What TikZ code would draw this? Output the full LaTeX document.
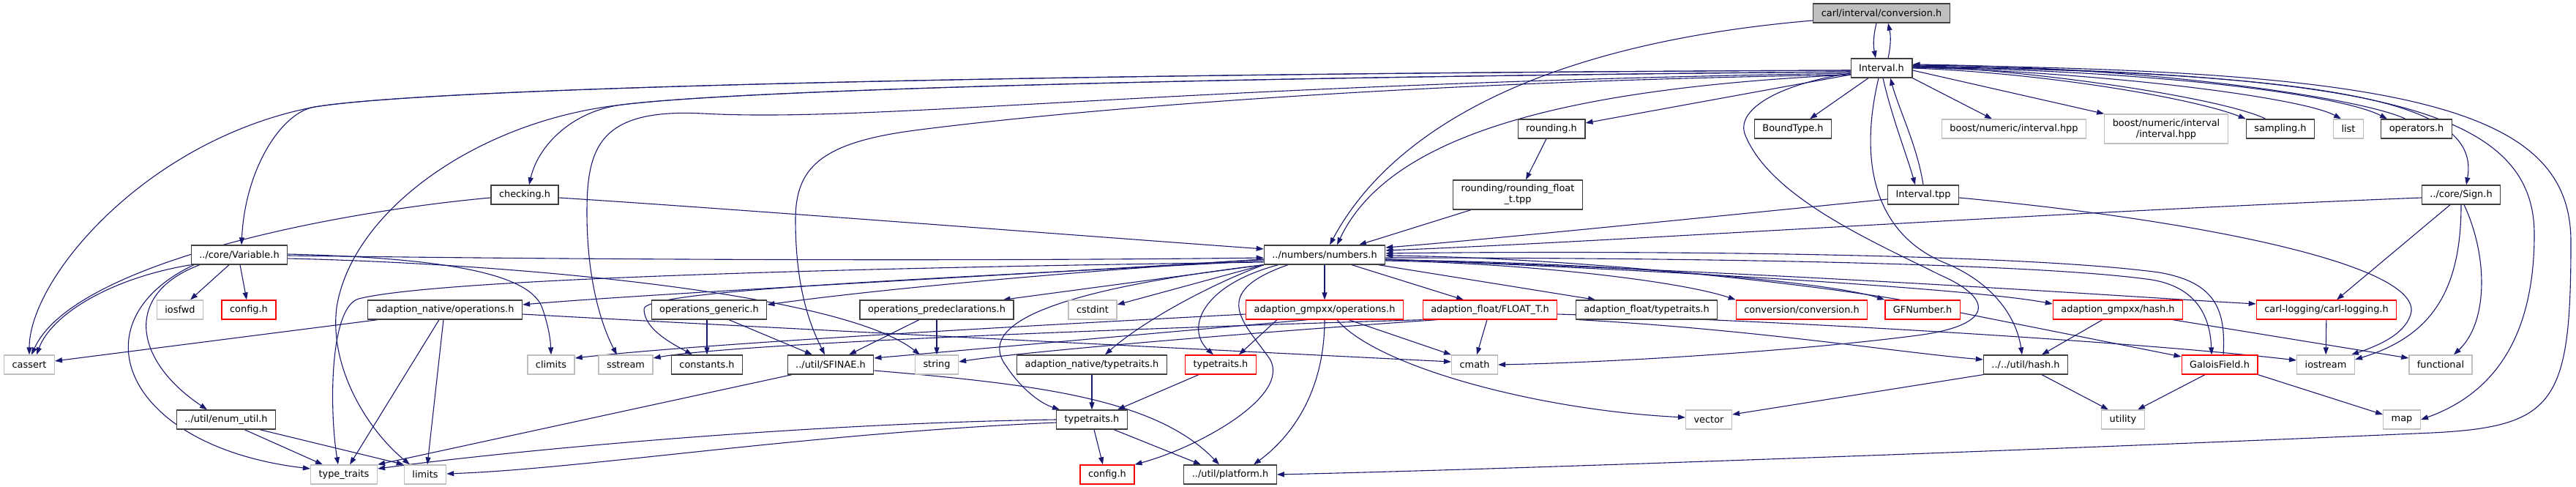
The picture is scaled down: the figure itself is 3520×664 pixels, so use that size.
\documentclass[tikz,border=0pt]{standalone}
\usepackage{fontspec}
\setmainfont{DejaVu Sans}
\usetikzlibrary{arrows.meta,backgrounds}
\definecolor{edgeblue}{HTML}{191970}
\definecolor{grey25}{HTML}{404040}
\definecolor{grey75}{HTML}{BFBFBF}
\definecolor{trunc}{HTML}{FF0000}

\begin{document}
\begin{tikzpicture}[x=1pt,y=-1pt,>={Triangle[length=10pt,width=7pt]}]
\tikzset{hdr/.style={draw=grey25,line width=1.3pt,fill=white,inner xsep=11pt,inner ysep=0pt,minimum height=26pt,font=\fontsize{12.9}{15}\selectfont}, syshdr/.style={hdr,draw=grey75}, trunchdr/.style={hdr,draw=trunc}, roothdr/.style={hdr,fill=grey75}, dep/.style={->,draw=edgeblue,line width=1.1pt}}
\useasboundingbox (0,0) rectangle (3520,664);
% project headers
\node[roothdr] (conv) at (2571,18) {carl/interval/conversion.h};
\node[hdr] (intv) at (2571,93) {Interval.h};
\node[hdr] (boundtype) at (2450,176) {BoundType.h};
\node[hdr] (rounding) at (2120,176) {rounding.h};
\node[syshdr] (bnint) at (2752,176) {boost/numeric/interval.hpp};
\node[syshdr,align=center,minimum height=40pt] (bninti) at (2960,176) {boost/numeric/interval\\/interval.hpp};
\node[hdr] (sampling) at (3116,176) {sampling.h};
\node[hdr] (operators) at (3302,176) {operators.h};
\node[hdr] (checking) at (717,266) {checking.h};
\node[hdr,align=center,minimum height=40pt] (rfloat) at (2074,266) {rounding/rounding\_float\\\_t.tpp};
\node[hdr] (itpp) at (2628,266) {Interval.tpp};
\node[hdr] (sign) at (3363,266) {../core/Sign.h};
\node[hdr] (variable) at (327,348) {../core/Variable.h};
\node[hdr] (numbers) at (1810,348) {../numbers/numbers.h};
\node[trunchdr] (configA) at (340,423) {config.h};
\node[hdr] (natops) at (608,423) {adaption\_native/operations.h};
\node[hdr] (opsgen) at (969,423) {operations\_generic.h};
\node[hdr] (opspre) at (1280,423) {operations\_predeclarations.h};
\node[trunchdr] (gmpops) at (1810,423) {adaption\_gmpxx/operations.h};
\node[trunchdr] (floatt) at (2036,423) {adaption\_float/FLOAT\_T.h};
\node[hdr] (floattt) at (2250,423) {adaption\_float/typetraits.h};
\node[trunchdr] (convconv) at (2462,423) {conversion/conversion.h};
\node[trunchdr] (gfnum) at (2627,423) {GFNumber.h};
\node[trunchdr] (gmphash) at (2894,423) {adaption\_gmpxx/hash.h};
\node[trunchdr] (logging) at (3179,423) {carl-logging/carl-logging.h};
\node[hdr] (constants) at (966,498) {constants.h};
\node[hdr] (sfinae) at (1135,498) {../util/SFINAE.h};
\node[hdr] (nattt) at (1492,498) {adaption\_native/typetraits.h};
\node[trunchdr] (tpred) at (1668,498) {typetraits.h};
\node[hdr] (hash) at (2768,498) {../../util/hash.h};
\node[trunchdr] (galois) at (3033,498) {GaloisField.h};
\node[hdr] (enumutil) at (309,573) {../util/enum\_util.h};
\node[hdr] (tpblack) at (1492,573) {typetraits.h};
\node[trunchdr] (configB) at (1513,648) {config.h};
\node[hdr] (platform) at (1681,648) {../util/platform.h};
% system headers
\foreach \n/\x/\y/\t in {lst/3209/176/list, iosfwd/246/423/iosfwd, cstdint/1493/423/cstdint, cassert/40/498/cassert, climits/753/498/climits, sstream/855/498/sstream, str/1280/498/string, cmath/2015/498/cmath, iostream/3178/498/iostream, functional/3335/498/functional, vector/2335/573/vector, utility/2901/573/utility, map/3282/573/map, typetraits/470/648/type\_traits, limits/581/648/limits}
  \node[syshdr] (\n) at (\x,\y) {\t};

\begin{scope}[on background layer]
% root and Interval.h
\draw[dep] ([xshift=-7]conv.south) to[bend right=12] ([xshift=-8]intv.north);
\draw[dep] ([xshift=9]intv.north) to[bend right=12] ([xshift=9]conv.south);
\draw[dep] ([yshift=-10]conv.west) .. controls (2100,60) and (1900,180) .. ([xshift=7]numbers.north);
\draw[dep] ([yshift=-9]intv.west) .. controls (2150,120) and (1900,180) .. ([xshift=17]numbers.north);
\draw[dep] ([yshift=-9]intv.west) -- ([yshift=8]rounding.east);
\draw[dep] ([xshift=-18]intv.south) -- ([xshift=23]boundtype.north);
\draw[dep] (intv.south east) -- ([xshift=-30]bnint.north);
\draw[dep] ([yshift=-3]intv.east) -- (bninti.north west);
\draw[dep] (intv.east) .. controls (2800,100) and (3000,135) .. (sampling.north west);
\draw[dep] ([xshift=-20]sampling.north) .. controls (3040,135) and (2800,98) .. ([yshift=3]intv.east);
\draw[dep] ([yshift=1]intv.east) .. controls (2900,100) and (3150,135) .. ([xshift=-10]lst.north);
\draw[dep] ([yshift=1]intv.east) .. controls (2950,96) and (3200,130) .. ([xshift=-40]operators.north);
\draw[dep] ([xshift=-15]operators.north) .. controls (3230,135) and (2950,92) .. ([yshift=5]intv.east);
\draw[dep] ([yshift=2]intv.east) .. controls (3200,100) and (3390,140) .. ([xshift=7]sign.north);
\draw[dep] ([yshift=3]intv.east) .. controls (3250,100) and (3463,150) .. (3463,320) .. controls (3463,470) and (3400,540) .. (map.east);
\draw[dep] ([yshift=4]intv.east) .. controls (3300,96) and (3513,150) .. (3513,330) .. controls (3513,560) and (3490,585) .. (3300,592) .. controls (2900,610) and (2100,640) .. (platform.east);
\draw[dep] ([xshift=2]intv.south) .. controls (2585,160) and (2605,210) .. ([xshift=-11]itpp.north);
\draw[dep] (itpp.north) .. controls (2620,200) and (2595,150) .. ([xshift=12]intv.south);
\draw[dep] ([xshift=-4]intv.south) .. controls (2540,220) and (2560,320) .. (2660,360) .. controls (2720,385) and (2755,430) .. ([xshift=-5]hash.north);
\draw[dep] ([yshift=-7]intv.west) .. controls (2430,115) and (2370,150) .. (2385,185) .. controls (2420,270) and (2560,330) .. (2650,375) .. controls (2730,410) and (2720,445) .. (2620,458) .. controls (2450,480) and (2200,495) .. (cmath.east);
\draw[dep] ([yshift=-3]intv.west) .. controls (1500,100) and (600,118) .. (430,146) .. controls (385,153) and (335,230) .. ([xshift=3]variable.north);
\draw[dep] ([yshift=-3]intv.west) .. controls (1500,100) and (600,118) .. (430,146) .. controls (200,190) and (40,380) .. (cassert.north);
\draw[dep] ([yshift=-5]intv.west) .. controls (1600,106) and (1000,124) .. (850,143) .. controls (780,152) and (735,200) .. ([xshift=6]checking.north);
\draw[dep] ([yshift=-5]intv.west) .. controls (1600,106) and (1000,124) .. (850,143) .. controls (650,165) and (480,290) .. (460,420) .. controls (450,500) and (500,585) .. ([xshift=-21]limits.north);
\draw[dep] ([yshift=-7]intv.west) .. controls (1600,115) and (1200,168) .. (960,155) .. controls (820,148) and (802,200) .. (802,290) .. controls (802,400) and (830,460) .. ([xshift=-12]sstream.north);
\draw[dep] ([yshift=-9]intv.west) .. controls (1900,112) and (1450,152) .. (1250,178) .. controls (1120,195) and (1087,230) .. (1087,300) .. controls (1087,400) and (1110,450) .. ([xshift=-8]sfinae.north);
% third row
\draw[dep] ([yshift=-4]checking.east) .. controls (1000,285) and (1450,320) .. ([yshift=8]numbers.west);
\draw[dep] ([yshift=-4]checking.west) .. controls (450,290) and (100,360) .. ([xshift=3]cassert.north);
\draw[dep] ([xshift=-7]rounding.south) -- ([xshift=11]rfloat.north);
\draw[dep] ([xshift=-64]rfloat.south) -- ([xshift=47]numbers.north);
\draw[dep] ([yshift=-6]itpp.west) .. controls (2300,300) and (2000,330) .. ([yshift=10]numbers.east);
\draw[dep] ([yshift=-4]sign.west) .. controls (2800,290) and (2200,330) .. ([yshift=6]numbers.east);
\draw[dep] ([yshift=-4]itpp.east) .. controls (3000,300) and (3300,360) .. (3295,425) .. controls (3290,455) and (3250,472) .. ([xshift=35]iostream.north);
\draw[dep] ([xshift=-15]sign.south) -- ([xshift=14]logging.north);
\draw[dep] (sign.south) .. controls (3363,400) and (3320,460) .. ([yshift=7]iostream.east);
\draw[dep] ([xshift=4]sign.south) .. controls (3400,350) and (3400,440) .. ([xshift=18]functional.north);
% Variable.h
\draw[dep] (variable.south west) .. controls (150,380) and (70,430) .. ([xshift=10]cassert.north);
\draw[dep] ([xshift=-14]variable.south) -- ([xshift=14]iosfwd.north);
\draw[dep] ([xshift=1]variable.south) -- ([xshift=-3]configA.north);
\draw[dep] ([xshift=-54]variable.south) .. controls (170,400) and (180,490) .. ([xshift=-26]enumutil.north);
\draw[dep] ([xshift=-62]variable.south) .. controls (100,440) and (170,610) .. ([yshift=8]typetraits.west);
\draw[dep] ([yshift=1]variable.east) .. controls (600,352) and (720,372) .. (740,418) .. controls (748,440) and (752,460) .. (climits.north);
\draw[dep] ([yshift=-1]variable.east) .. controls (900,356) and (1400,356) .. ([yshift=-4]numbers.west);
\draw[dep] ([yshift=-5]variable.east) .. controls (700,360) and (1150,400) .. ([xshift=-23]str.north);
% numbers.h
\draw[dep] ([yshift=-6]numbers.west) .. controls (1400,375) and (900,400) .. ([yshift=7]natops.east);
\draw[dep] ([yshift=-6]numbers.west) .. controls (1450,372) and (1200,395) .. ([yshift=7]opsgen.east);
\draw[dep] (numbers.south west) -- ([xshift=-15]opspre.north east);
\draw[dep] (numbers.south west) -- ([yshift=7]cstdint.east);
\draw[dep] ([yshift=-8]numbers.west) .. controls (1300,380) and (880,395) .. (880,422) .. controls (880,450) and (920,470) .. ([xshift=-20]constants.north);
\draw[dep] ([yshift=-10]numbers.west) .. controls (1200,365) and (600,380) .. (490,408) .. controls (450,420) and (450,560) .. ([xshift=-8]typetraits.north);
\draw[dep] (numbers.south west) .. controls (1450,395) and (1330,440) .. (1375,500) .. controls (1395,530) and (1420,550) .. ([xshift=5]tpblack.north west);
\draw[dep] (numbers.south west) .. controls (1650,390) and (1560,440) .. ([xshift=18]nattt.north);
\draw[dep] ([xshift=20]numbers.south west) .. controls (1640,390) and (1620,450) .. ([xshift=-10]tpred.north);
\draw[dep] ([xshift=-50]numbers.south) .. controls (1650,400) and (1700,440) .. (1735,490) .. controls (1765,540) and (1640,610) .. (configB.north east);
\draw[dep] ([xshift=37]numbers.south) -- ([xshift=-36]floatt.north);
\draw[dep] ([xshift=-10]numbers.south east) -- ([xshift=-70]floattt.north);
\draw[dep] ([yshift=-8]numbers.east) .. controls (2100,360) and (2300,385) .. (convconv.north west);
\draw[dep] ([yshift=-7]numbers.east) .. controls (2200,358) and (2500,385) .. (gfnum.north west);
\draw[dep] ([xshift=-30]gfnum.north) .. controls (2450,385) and (2150,352) .. ([yshift=-1]numbers.east);
\draw[dep] ([yshift=-6]numbers.east) .. controls (2300,370) and (2700,395) .. ([yshift=8]gmphash.west);
\draw[dep] ([yshift=-6]numbers.east) .. controls (2500,375) and (2900,405) .. ([yshift=8]logging.west);
\draw[dep] ([yshift=-4]numbers.east) .. controls (2400,352) and (2800,362) .. (2940,382) .. controls (3000,392) and (3020,430) .. ([xshift=-11]galois.north);
\draw[dep] ([xshift=5]galois.north) .. controls (3042,420) and (3025,385) .. (2950,372) .. controls (2750,345) and (2200,342) .. ([yshift=2]numbers.east);
% lower rows
\draw[dep] ([xshift=-92]natops.south) -- ([yshift=5]cassert.east);
\draw[dep] ([xshift=-8]natops.south) -- ([xshift=8]typetraits.north);
\draw[dep] ([xshift=-2]natops.south) -- ([xshift=3]limits.north);
\draw[dep] ([yshift=-6]natops.east) .. controls (1000,445) and (1700,480) .. ([yshift=4]cmath.west);
\draw[dep] ([xshift=-3]opsgen.south) -- (constants.north);
\draw[dep] ([xshift=27]opsgen.south) -- ([xshift=-25]sfinae.north);
\draw[dep] ([xshift=-24]opspre.south) -- ([xshift=25]sfinae.north);
\draw[dep] ([xshift=-53]sfinae.south) -- (typetraits.north east);
\draw[dep] ([yshift=-8]sfinae.east) .. controls (1420,525) and (1580,545) .. ([xshift=-15]platform.north);
\draw[dep] ([xshift=-30]tpred.south) -- ([xshift=35]tpblack.north);
\draw[dep] (tpblack.west) .. controls (1100,578) and (700,615) .. ([yshift=8]typetraits.east);
\draw[dep] ([yshift=-4]tpblack.west) .. controls (1100,592) and (800,640) .. ([yshift=1]limits.east);
\draw[dep] ([xshift=3]tpblack.south) -- ([xshift=-6]configB.north);
\draw[dep] ([xshift=30]tpblack.south) -- ([xshift=-40]platform.north);
\draw[dep] ([xshift=-65]gmpops.south) -- ([xshift=25]tpred.north);
\draw[dep] ([xshift=-23]gmpops.south) -- ([yshift=9]sfinae.east);
\draw[dep] ([yshift=-6]gmpops.west) .. controls (1400,445) and (950,470) .. ([yshift=9]climits.east);
\draw[dep] ([xshift=33]gmpops.south) -- (cmath.north west);
\draw[dep] ([xshift=17]gmpops.south) .. controls (1880,500) and (2100,560) .. ([yshift=3]vector.west);
\draw[dep] (gmpops.south) .. controls (1810,540) and (1760,600) .. ([xshift=32]platform.north);
\draw[dep] (floatt.south west) .. controls (1500,450) and (1000,470) .. ([yshift=9]sstream.east);
\draw[dep] ([xshift=20]floatt.south west) .. controls (1700,455) and (1400,480) .. ([yshift=4]str.east);
\draw[dep] ([xshift=-4]floatt.south) -- ([xshift=3]cmath.north);
\draw[dep] ([yshift=-6]floatt.east) .. controls (2500,440) and (2950,470) .. ([yshift=6]iostream.west);
\draw[dep] ([xshift=5]floattt.south west) .. controls (2400,450) and (2600,482) .. ([yshift=7]hash.west);
\draw[dep] ([yshift=-4]gfnum.east) -- ([yshift=11]galois.west);
\draw[dep] ([xshift=-21]gmphash.south) -- ([xshift=22]hash.north);
\draw[dep] ([xshift=75]gmphash.south) -- ([yshift=9]functional.west);
\draw[dep] ([xshift=22]hash.south) -- ([xshift=-20]utility.north);
\draw[dep] (hash.south west) -- ([yshift=7]vector.east);
\draw[dep] ([xshift=-20]galois.south) -- ([xshift=20]utility.north);
\draw[dep] (galois.south east) -- ([yshift=7]map.west);
\draw[dep] ([xshift=25]enumutil.south) -- ([xshift=-29]typetraits.north);
\draw[dep] ([xshift=46]enumutil.south) -- (limits.north west);
\foreach \a/\b in {numbers/gmpops,opspre/str,nattt/tpblack,logging/iostream}
  \draw[dep] (\a) -- (\b);
\end{scope}
\end{tikzpicture}
\end{document}
